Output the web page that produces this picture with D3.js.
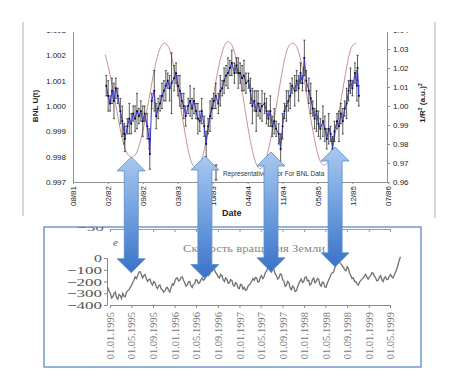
<!DOCTYPE html>
<html>
<head>
<meta charset="utf-8">
<script src="https://cdn.jsdelivr.net/npm/d3@7"></script>
<style>
  body { margin: 0; background: #fff; }
  svg { display: block; }
</style>
</head>
<body>
<div id="chart"></div>
<script>
// ---------- top chart: BNL U(t) and 1/R^2 ----------
var bnlYears = [
  1982.10, 1982.13, 1982.16, 1982.19, 1982.22, 1982.25, 1982.28, 1982.32, 1982.35, 1982.38,
  1982.39, 1982.43, 1982.46, 1982.49, 1982.52, 1982.55, 1982.58, 1982.61, 1982.64, 1982.67,
  1982.70, 1982.74, 1982.77, 1982.78, 1982.81, 1982.85, 1982.88, 1982.91, 1982.94, 1982.97,
  1983.00, 1983.03, 1983.06, 1983.09, 1983.12, 1983.16, 1983.19, 1983.22, 1983.25, 1983.28,
  1983.31, 1983.34, 1983.38, 1983.41, 1983.44, 1983.47, 1983.50, 1983.53, 1983.56, 1983.59,
  1983.63, 1983.66, 1983.69, 1983.72, 1983.75, 1983.78, 1983.81, 1983.85, 1983.88, 1983.91,
  1983.94, 1983.97, 1984.00, 1984.03, 1984.06, 1984.10, 1984.13, 1984.16, 1984.19, 1984.22,
  1984.25, 1984.28, 1984.32, 1984.35, 1984.38, 1984.41, 1984.44, 1984.47, 1984.50, 1984.53,
  1984.57, 1984.60, 1984.63, 1984.66, 1984.69, 1984.72, 1984.75, 1984.79, 1984.82, 1984.85,
  1984.88, 1984.91, 1984.94, 1984.97, 1985.00, 1985.04, 1985.07, 1985.10, 1985.13, 1985.16,
  1985.19, 1985.22, 1985.26, 1985.29, 1985.32, 1985.35, 1985.38, 1985.41, 1985.44, 1985.48,
  1985.51, 1985.54, 1985.57, 1985.60, 1985.63, 1985.66, 1985.70, 1985.73, 1985.76, 1985.79,
  1985.82, 1985.85, 1985.88, 1985.91, 1985.94, 1985.98, 1986.01, 1986.02, 1986.04
];
var bnlValues = [
  1.0008, 1.0004, 1.0001, 1.0006, 1.0002, 1.0007, 1.0004, 0.9998, 0.9994, 0.9989,
  0.9987, 0.9992, 0.9995, 0.9993, 0.9997, 0.9995, 0.9998, 0.9996, 0.9998, 0.9994,
  0.9997, 0.9992, 0.9987, 0.9981, 1.0002, 1.0006, 0.9996, 0.9999, 1.0001, 1.0004,
  1.0006, 1.0008, 1.0010, 1.0007, 1.0009, 1.0011, 1.0013, 1.0008, 1.0006, 1.0002,
  1.0000, 0.9996, 1.0000, 1.0002, 0.9999, 1.0002, 0.9998, 0.9995, 0.9994, 0.9998,
  0.9992, 0.9985, 0.9992, 0.9996, 0.9999, 1.0002, 1.0004, 1.0001, 1.0006, 1.0007,
  1.0010, 1.0012, 1.0013, 1.0015, 1.0017, 1.0013, 1.0016, 1.0013, 1.0013, 1.0011,
  1.0012, 1.0009, 1.0010, 1.0006, 1.0000, 1.0002, 0.9998, 1.0001, 0.9998, 1.0000,
  1.0001, 0.9998, 0.9995, 0.9998, 0.9992, 0.9994, 0.9991, 0.9989, 0.9983, 0.9992,
  0.9998, 1.0000, 1.0002, 1.0004, 1.0008, 1.0006, 1.0010, 1.0007, 1.0013, 1.0009,
  1.0019, 1.0010, 1.0006, 1.0003, 0.9999, 0.9995, 0.9998, 0.9993, 0.9991, 0.9994,
  0.9991, 0.9987, 0.9991, 0.9989, 0.9983, 0.9990, 0.9994, 0.9992, 0.9997, 0.9994,
  0.9999, 1.0001, 1.0006, 1.0010, 1.0007, 1.0013, 1.0008, 1.0015, 1.0004
];
// error bar half-lengths, in units of 1e-4
var bnlErrors = [
  4, 6, 3, 5, 7, 4, 3, 5, 6, 4,
  5, 3, 6, 4, 3, 5, 7, 3, 4, 6,
  3, 5, 4, 6, 3, 8, 5, 4, 3, 5,
  4, 6, 3, 5, 12, 5, 4, 4, 6, 3,
  5, 4, 3, 6, 4, 5, 3, 6, 4, 5,
  4, 5, 3, 6, 4, 3, 5, 4, 6, 3,
  5, 4, 6, 3, 5, 4, 3, 6, 4, 5,
  6, 4, 3, 5, 7, 4, 8, 5, 3, 6,
  4, 5, 3, 6, 4, 5, 3, 4, 6, 5,
  3, 6, 4, 5, 3, 6, 4, 5, 4, 3,
  7, 4, 5, 6, 3, 4, 8, 5, 4, 6,
  5, 4, 6, 3, 5, 4, 3, 6, 4, 5,
  3, 6, 4, 5, 3, 4, 6, 5, 4
];
// 1/R^2 on the first of each month, from Feb 1982
var invR2Start = "1982-02-01";
var invR2Values = [
  1.027, 1.016, 1.001, 0.986, 0.976, 0.973, 0.976, 0.986, 1.000, 1.016, 1.028,
  1.033, 1.030, 1.019, 1.002, 0.986, 0.972, 0.968, 0.971, 0.983, 1.000, 1.017, 1.029,
  1.034, 1.030, 1.019, 1.002, 0.985, 0.972, 0.967, 0.971, 0.983, 0.999, 1.016, 1.029,
  1.033, 1.030, 1.019, 1.002, 0.986, 0.973, 0.969, 0.972, 0.984, 1.000, 1.017, 1.030,
  1.033
];
var leftTicks = [0.997, 0.998, 0.999, 1.000, 1.001, 1.002, 1.003];
var rightTicks = [0.96, 0.97, 0.98, 0.99, 1.00, 1.01, 1.02, 1.03, 1.04];
var dateTicks = ["1981-08-01", "1982-02-16", "1982-09-03", "1983-03-21", "1983-10-06",
  "1984-04-22", "1984-11-07", "1985-05-25", "1985-12-10", "1986-07-01"];

// ---------- bottom chart: Earth rotation speed (weekly) ----------
var lodStart = "1994-12-20";
var lodStepDays = 7;
var lodValues = [
  -250, -285, -300, -340, -330, -300, -290, -335, -350, -310, -320, -345, -300, -325, -330, -290, -280, -270,
  -250, -235, -210, -190, -160, -175, -150, -120, -115, -140,
  -170, -150, -140, -175, -200, -185, -180, -215, -230, -200, -210, -245,
  -260, -235, -230, -265, -270, -290, -280, -255, -250, -275, -290, -250,
  -220, -230, -200, -175, -170, -195, -190, -165, -160, -190, -210, -240,
  -230, -205, -200, -235, -250, -225, -220, -185, -190, -215, -210, -185,
  -170, -190, -180, -145, -130, -150, -140, -115, -110, -95, -100, -125, -140, -160,
  -170, -140, -150, -185, -200, -170, -180, -215, -210, -185, -190, -230, -240,
  -210, -220, -255, -260, -225, -230, -265, -250, -275, -270, -240, -230, -215,
  -200, -175, -190, -165, -170, -205, -200, -165, -150, -175, -160, -125, -110, -85, -90, -110,
  -120, -95, -100, -135, -150, -180, -170, -135, -140, -185, -200,
  -240, -230, -200, -210, -255, -270, -240, -250, -285, -280, -245,
  -220, -195, -180, -210, -200, -165, -160, -195, -190, -230, -220, -185, -170,
  -210, -200, -175, -180, -225, -240, -205, -210, -245, -250, -215, -190, -165,
  -140, -125, -120, -85, -60, -35, -20, -40, -50, -65,
  -80, -100, -110, -75, -90, -130, -150, -175, -170, -200, -200, -220, -230, -205, -190, -180,
  -170, -155, -140, -165, -180, -160, -150, -125, -130, -155, -170, -195, -190, -165,
  -150, -185, -200, -170, -160, -185, -180, -155, -140, -160, -170, -145, -120, -95,
  -60, -20, 10
];
var lodDateTicks = ["1995-01-01", "1995-05-01", "1995-09-01", "1996-01-01", "1996-05-01",
  "1996-09-01", "1997-01-01", "1997-05-01", "1997-09-01", "1998-01-01", "1998-05-01",
  "1998-09-01", "1999-01-01", "1999-05-01"];
var lodValueTicks = [0, -100, -200, -300, -400];
var lodTitle = "Скорость вращения Земли";

// ---------- arrows linking the two charts ----------
var arrowYears = [1982.49, 1983.64, 1984.67, 1985.67];
var arrowTopValues = [0.9732, 0.9737, 0.9758, 0.9784]; // on the 1/R^2 axis
var arrowBottomValues = [-125, -175, -117, -75]; // on the bottom chart axis

var parse = d3.timeParse("%Y-%m-%d");
function yearToDate(y) {
  var yr = Math.floor(y);
  var a = new Date(yr, 0, 1), b = new Date(yr + 1, 0, 1);
  return new Date(+a + (y - yr) * (b - a));
}

var svg = d3.select("#chart").append("svg").attr("width", 464).attr("height", 392);
var defs = svg.append("defs");

defs.append("clipPath").attr("id", "topClip")
  .append("rect").attr("x", 0).attr("y", 32).attr("width", 464).attr("height", 194);

// scales for the top chart
var x = d3.scaleTime().domain([parse("1981-08-01"), parse("1986-07-01")]).range([73, 388]);
var yL = d3.scaleLinear().domain([0.997, 1.003]).range([182, 30]);
var yR = d3.scaleLinear().domain([0.96, 1.04]).range([182, 30]);

// frame of the pasted top picture
svg.append("line").attr("x1", 23).attr("x2", 23).attr("y1", 22).attr("y2", 216)
  .attr("stroke", "#b0b0b0");
svg.append("line").attr("x1", 435).attr("x2", 435).attr("y1", 22).attr("y2", 218)
  .attr("stroke", "#b0b0b0");

var topG = svg.append("g").attr("clip-path", "url(#topClip)");
var sans = "'Liberation Sans', Arial, sans-serif";

// left axis
var gl = topG.append("g").attr("transform", "translate(73,0)")
  .call(d3.axisLeft(yL).tickValues(leftTicks).tickFormat(d3.format(".3f")).tickSize(0).tickPadding(7));
gl.select(".domain").attr("stroke", "#8f8f8f");
gl.selectAll("text").style("font-family", sans).style("font-size", "8px").attr("fill", "#222");

// right axis
var gr = topG.append("g").attr("transform", "translate(387,0)")
  .call(d3.axisRight(yR).tickValues(rightTicks).tickFormat(d3.format(".2f")).tickSize(3).tickPadding(3));
gr.select(".domain").attr("stroke", "#8f8f8f");
gr.selectAll("line").attr("stroke", "#8f8f8f");
gr.selectAll("text").style("font-family", sans).style("font-size", "8px").attr("fill", "#222");

// bottom date axis
var gx = topG.append("g").attr("transform", "translate(0,182)")
  .call(d3.axisBottom(x).tickValues(dateTicks.map(parse)).tickFormat(d3.timeFormat("%m/%y")).tickSize(2));
gx.select(".domain").attr("stroke", "#8f8f8f");
gx.selectAll("line").attr("stroke", "#8f8f8f");
gx.selectAll("text")
  .style("font-family", sans).style("font-size", "8px").attr("fill", "#222")
  .attr("transform", "rotate(-90)")
  .attr("text-anchor", "end")
  .attr("x", -4).attr("y", 0).attr("dy", "0.35em");

// axis titles
topG.append("text").attr("x", 222).attr("y", 216)
  .style("font-family", sans).style("font-size", "9px").style("font-weight", "bold")
  .attr("fill", "#222").text("Date");
topG.append("text").attr("transform", "translate(38,106) rotate(-90)")
  .attr("text-anchor", "middle")
  .style("font-family", sans).style("font-size", "8px").style("font-weight", "bold")
  .attr("fill", "#222").text("BNL U(t)");
var rt = topG.append("text").attr("transform", "translate(425,103) rotate(-90)")
  .attr("text-anchor", "middle")
  .style("font-family", sans).style("font-size", "8px").style("font-weight", "bold")
  .attr("fill", "#222");
rt.append("tspan").text("1/R");
rt.append("tspan").attr("dy", -3).style("font-size", "5px").text("2");
rt.append("tspan").attr("dy", 3).text(" (a.u.)");
rt.append("tspan").attr("dy", -3).style("font-size", "5px").text("2");

// 1/R^2 curve
var invR2Data = invR2Values.map(function (v, i) {
  return { date: d3.timeMonth.offset(parse(invR2Start), i), value: v };
});
topG.append("path").datum(invR2Data)
  .attr("fill", "none").attr("stroke", "#c99191").attr("stroke-width", 1)
  .attr("d", d3.line()
    .x(function (d) { return x(d.date); })
    .y(function (d) { return yR(d.value); })
    .curve(d3.curveNatural));

// BNL data with error bars
var bnl = bnlYears.map(function (yv, i) {
  return { date: yearToDate(yv), value: bnlValues[i], err: bnlErrors[i] * 1e-4 };
});
var eb = topG.append("g").attr("stroke", "#151515").attr("stroke-width", 0.7);
bnl.forEach(function (d) {
  var cx = x(d.date);
  eb.append("line").attr("x1", cx).attr("x2", cx)
    .attr("y1", yL(d.value - d.err)).attr("y2", yL(d.value + d.err));
  eb.append("line").attr("x1", cx - 1).attr("x2", cx + 1)
    .attr("y1", yL(d.value - d.err)).attr("y2", yL(d.value - d.err));
  eb.append("line").attr("x1", cx - 1).attr("x2", cx + 1)
    .attr("y1", yL(d.value + d.err)).attr("y2", yL(d.value + d.err));
});
topG.append("path").datum(bnl)
  .attr("fill", "none").attr("stroke", "#3434cc").attr("stroke-width", 1)
  .attr("d", d3.line()
    .x(function (d) { return x(d.date); })
    .y(function (d) { return yL(d.value); }));
topG.append("g").selectAll("rect").data(bnl).enter().append("rect")
  .attr("x", function (d) { return x(d.date) - 0.9; })
  .attr("y", function (d) { return yL(d.value) - 0.9; })
  .attr("width", 1.8).attr("height", 1.8).attr("fill", "#111");

// representative error legend
var lg = topG.append("g").attr("stroke", "#111").attr("stroke-width", 0.8);
lg.append("line").attr("x1", 216).attr("x2", 216).attr("y1", 165).attr("y2", 180);
lg.append("line").attr("x1", 214.5).attr("x2", 217.5).attr("y1", 165).attr("y2", 165);
lg.append("line").attr("x1", 214.5).attr("x2", 217.5).attr("y1", 180).attr("y2", 180);
topG.append("text").attr("x", 223).attr("y", 176)
  .style("font-family", sans).style("font-size", "6.5px").attr("fill", "#333")
  .text("Representative Error For BNL Data");

// ---------- bottom chart ----------
var boxX = 44, boxY = 227, boxW = 377, boxH = 140;
defs.append("clipPath").attr("id", "botClip")
  .append("rect").attr("x", boxX).attr("y", boxY).attr("width", boxW).attr("height", boxH);
svg.append("rect").attr("x", boxX).attr("y", boxY).attr("width", boxW).attr("height", boxH)
  .attr("fill", "#fff");

var bot = svg.append("g").attr("clip-path", "url(#botClip)");
var serif = "'Liberation Serif', 'Times New Roman', serif";
var xb = d3.scaleTime().domain([parse("1995-01-01"), parse("1999-05-01")]).range([110, 390]);
var yb = d3.scaleLinear().domain([-400, 0]).range([305, 258]);

// remnant axis of the picture above it
var gtop = bot.append("g").attr("transform", "translate(0,229)")
  .call(d3.axisBottom(xb).tickValues(lodDateTicks.map(parse)).tickFormat("").tickSize(3));
gtop.selectAll("line, path").attr("stroke", "#999");
bot.append("text").attr("x", 104).attr("y", 231).attr("text-anchor", "end")
  .style("font-family", serif).style("font-size", "11px").attr("fill", "#666")
  .attr("textLength", 27).attr("lengthAdjust", "spacingAndGlyphs").text("−50");

// y axis
var gyb = bot.append("g").attr("transform", "translate(107,0)")
  .call(d3.axisLeft(yb).tickValues(lodValueTicks).tickFormat(function (d) {
    return d < 0 ? "−" + Math.abs(d) : "" + d;
  }).tickSize(3).tickPadding(2));
gyb.selectAll("line, path").attr("stroke", "#888");
gyb.selectAll("text")
  .style("font-family", serif).style("font-size", "11px").attr("fill", "#555")
  .attr("textLength", function (d) { return d < 0 ? 35 : 8; })
  .attr("lengthAdjust", "spacingAndGlyphs");

// x axis
var gxb = bot.append("g").attr("transform", "translate(0,305)")
  .call(d3.axisBottom(xb).tickValues(lodDateTicks.map(parse)).tickFormat(d3.timeFormat("%d.%m.%Y")).tickSize(3));
gxb.selectAll("line, path").attr("stroke", "#888");
gxb.selectAll("text")
  .style("font-family", serif).style("font-size", "10.5px").attr("fill", "#777")
  .attr("transform", "rotate(-90)")
  .attr("text-anchor", "end")
  .attr("x", -7).attr("y", 0).attr("dy", "0.35em");

// labels
bot.append("text").attr("x", 113).attr("y", 246)
  .style("font-family", serif).style("font-style", "italic").style("font-size", "11px")
  .attr("fill", "#555").text("e");
bot.append("text").attr("x", 183).attr("y", 252)
  .style("font-family", serif).style("font-size", "10px").attr("fill", "#888")
  .attr("textLength", 142).attr("lengthAdjust", "spacingAndGlyphs").text(lodTitle);

// rotation speed series
var lod = lodValues.map(function (v, i) {
  return { date: d3.timeDay.offset(parse(lodStart), i * lodStepDays), value: v };
});
bot.append("path").datum(lod)
  .attr("fill", "none").attr("stroke", "#707070").attr("stroke-width", 1.3)
  .attr("d", d3.line()
    .x(function (d) { return xb(d.date); })
    .y(function (d) { return yb(d.value); }));

svg.append("rect").attr("x", boxX).attr("y", boxY).attr("width", boxW).attr("height", boxH)
  .attr("fill", "none").attr("stroke", "#4f7fbf").attr("stroke-width", 1.2);

// ---------- arrows ----------
var grad = defs.append("linearGradient").attr("id", "arrowGrad")
  .attr("x1", 0).attr("y1", 0).attr("x2", 0).attr("y2", 1);
grad.append("stop").attr("offset", "0%").attr("stop-color", "#a9c8ee");
grad.append("stop").attr("offset", "50%").attr("stop-color", "#6f9fe0");
grad.append("stop").attr("offset", "100%").attr("stop-color", "#3a72c6");

function arrowPoints(cx, yTop, yBot) {
  var sw = 7, hw = 14, hl = 14;
  return [
    [cx, yTop], [cx + hw, yTop + hl], [cx + sw, yTop + hl],
    [cx + sw, yBot - hl], [cx + hw, yBot - hl], [cx, yBot],
    [cx - hw, yBot - hl], [cx - sw, yBot - hl], [cx - sw, yTop + hl],
    [cx - hw, yTop + hl]
  ];
}
svg.append("g").selectAll("path").data(arrowYears).enter().append("path")
  .attr("d", function (d, i) {
    return d3.line()(arrowPoints(x(yearToDate(d)), yR(arrowTopValues[i]), yb(arrowBottomValues[i]))) + "Z";
  })
  .attr("fill", "url(#arrowGrad)")
  .attr("stroke", "#5b8ccb").attr("stroke-width", 0.8);
</script>
</body>
</html>
